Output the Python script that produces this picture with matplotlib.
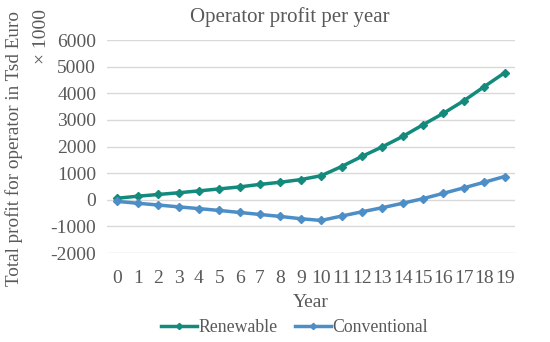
import numpy as np
import matplotlib
matplotlib.use("Agg")
import matplotlib.pyplot as plt

# data
years = list(range(20))
renewable = [60, 135, 200, 265, 335, 410, 485, 580, 660, 760,
             905, 1250, 1630, 1990, 2380, 2820, 3250, 3720, 4250, 4770]
conventional = [-60, -130, -195, -265, -330, -400, -475, -550, -625, -710,
                -775, -610, -450, -295, -130, 45, 245, 450, 660, 875]
yticks = [-2000, -1000, 0, 1000, 2000, 3000, 4000, 5000, 6000]

c_ren = '#138a7c'
c_con = '#4d8ec6'
txt = '#595959'

plt.rcParams['font.family'] = ['Liberation Serif', 'DejaVu Serif']
plt.rcParams['axes.unicode_minus'] = False

fig = plt.figure(figsize=(5.5, 3.42), dpi=100)
ax = fig.add_axes([0.195, 0.26, 0.741, 0.623])

ax.plot(years, renewable, color=c_ren, lw=2.5, marker='D', ms=4.5, label='Renewable')
ax.plot(years, conventional, color=c_con, lw=2.5, marker='D', ms=4.5, label='Conventional')

ax.set_xlim(-0.5, 19.5)
ax.set_ylim(-2000, 6000)
ax.set_yticks(yticks)
ax.set_xticks(years)
ax.grid(axis='y', color='#d9d9d9', lw=1)
ax.set_axisbelow(True)
for s in ax.spines.values():
    s.set_visible(False)
ax.tick_params(length=0, labelsize=14, colors=txt, pad=8)
ax.tick_params(axis='x', pad=12)

fig.text(0.527, 0.95, 'Operator profit per year', ha='center', va='center',
         fontsize=15, color=txt)
ax.set_xlabel('Year', fontsize=14, color=txt, labelpad=5)
fig.text(0.025, 0.565, 'Total profit for operator in Tsd Euro', rotation=90,
         ha='center', va='center', fontsize=13.8, color=txt)
fig.text(0.075, 0.975, '× 1000', rotation=90, ha='center', va='top',
         fontsize=14, color=txt)

ax.legend(loc='center', bbox_to_anchor=(0.46, -0.35), ncol=2, frameon=False,
          fontsize=12.8, labelcolor=txt, handlelength=2.0, handletextpad=0.1,
          columnspacing=1.0, markerscale=0.7)

fig.savefig('out.png', dpi=100)
